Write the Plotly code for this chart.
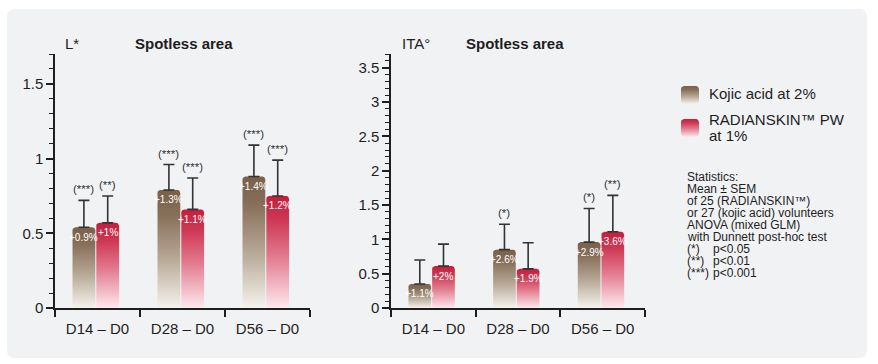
import math
import plotly.graph_objects as go

W, H = 878, 364

# ---- data -------------------------------------------------------------
categories = ["D14 – D0", "D28 – D0", "D56 – D0"]
series_names = ["Kojic acid at 2%", "RADIANSKIN™ PW", "at 1%"]

# L*, spotless area: mean change and SEM
l_kojic = [0.54, 0.79, 0.88]
l_kojic_sem = [0.18, 0.17, 0.21]
l_radian = [0.57, 0.66, 0.75]
l_radian_sem = [0.18, 0.21, 0.24]
l_kojic_pct = ["+0.9%", "+1.3%", "+1.4%"]
l_radian_pct = ["+1%", "+1.1%", "+1.2%"]
l_kojic_sig = ["(***)", "(***)", "(***)"]
l_radian_sig = ["(**)", "(***)", "(***)"]

# ITA°, spotless area: mean change and SEM
ita_kojic = [0.35, 0.85, 0.96]
ita_kojic_sem = [0.35, 0.37, 0.49]
ita_radian = [0.61, 0.57, 1.11]
ita_radian_sem = [0.32, 0.38, 0.53]
ita_kojic_pct = ["+1.1%", "+2.6%", "+2.9%"]
ita_radian_pct = ["+2%", "+1.9%", "+3.6%"]
ita_kojic_sig = ["", "(*)", "(*)"]
ita_radian_sig = ["", "", "(**)"]

l_ticks = [0, 0.5, 1, 1.5]
ita_ticks = [0, 0.5, 1, 1.5, 2, 2.5, 3, 3.5]

stats_lines = [
    "Statistics:",
    "Mean ± SEM",
    "of 25 (RADIANSKIN™)",
    "or 27 (kojic acid) volunteers",
    "ANOVA (mixed GLM)",
    "with Dunnett post-hoc test",
]
sig_keys = ["(*)", "(**)", "(***)"]
sig_levels = ["p<0.05", "p<0.01", "p<0.001"]

# ---- styling ------------------------------------------------------------
FONT = "Liberation Sans, Arial, Helvetica, sans-serif"
NARROW = "Liberation Sans Narrow, Arial Narrow, Liberation Sans, sans-serif"
INK = "#1e1e1e"
PANEL = "#f1f2f4"

KOJIC_SCALE = [[0, "#f5f2ec"], [0.45, "#b3a391"], [0.8, "#866e58"], [1, "#7a6049"]]
RADIAN_SCALE = [[0, "#fde9ed"], [0.45, "#e27c90"], [0.8, "#cd3652"], [1, "#c41f3c"]]

BAR_W = 0.268
GAP = 0.012
SHIFT = -0.02
KOJIC_OFF = (SHIFT - GAP / 2 - BAR_W, SHIFT - GAP / 2)
RADIAN_OFF = (SHIFT + GAP / 2, SHIFT + GAP / 2 + BAR_W)

# plot-area geometry in pixels
Y_TOP_PX, Y_ZERO_PX = 54, 308
LEFT_X = (55, 310)
RIGHT_X = (391, 645)
L_RANGE = [0, 1.7]
ITA_RANGE = [0, 3.7]


def px_x(p):
    return p / W


def px_y(p):
    return 1 - p / H


def rounded_outline(x0, x1, y0, y1, rx, ry, n=6):
    """Closed outline of a rectangle with rounded corners."""
    ry = min(ry, (y1 - y0) / 2)
    rx = min(rx, (x1 - x0) / 2)
    corners = [
        (x0 + rx, y0 + ry, 180, 270),
        (x1 - rx, y0 + ry, 270, 360),
        (x1 - rx, y1 - ry, 0, 90),
        (x0 + rx, y1 - ry, 90, 180),
    ]
    xs, ys = [], []
    for cx, cy, a0, a1 in corners:
        for i in range(n + 1):
            a = math.radians(a0 + (a1 - a0) * i / n)
            xs.append(cx + rx * math.cos(a))
            ys.append(cy + ry * math.sin(a))
    xs.append(xs[0])
    ys.append(ys[0])
    return xs, ys


fig = go.Figure()
annotations = []


def add_chart(xa, ya, yrange, xpx, kojic, kojic_sem, radian, radian_sem,
              kojic_pct, radian_pct, kojic_sig, radian_sig):
    x_unit = (xpx[1] - xpx[0]) / 3.0           # pixels per category
    y_unit = (Y_ZERO_PX - Y_TOP_PX) / (yrange[1] - yrange[0])
    rx, ry = 3 / x_unit, 3 / y_unit
    for vals, sems, pcts, sigs, off, scale in [
        (kojic, kojic_sem, kojic_pct, kojic_sig, KOJIC_OFF, KOJIC_SCALE),
        (radian, radian_sem, radian_pct, radian_sig, RADIAN_OFF, RADIAN_SCALE),
    ]:
        centers = []
        for i, v in enumerate(vals):
            xs, ys = rounded_outline(i + off[0], i + off[1], 0, v, rx, ry)
            fig.add_trace(go.Scatter(
                x=xs, y=ys, xaxis=xa, yaxis=ya, mode="lines",
                line=dict(width=0), fill="toself",
                fillgradient=dict(type="vertical", colorscale=scale),
                hoverinfo="skip", showlegend=False,
            ))
            cx = i + (off[0] + off[1]) / 2
            centers.append(cx)
            annotations.append(dict(
                x=cx, y=v, xref=xa, yref=ya, text=pcts[i], showarrow=False,
                yanchor="middle", yshift=-10,
                font=dict(family=NARROW, size=10, color="white"),
            ))
            if sigs[i]:
                annotations.append(dict(
                    x=cx, y=v + sems[i], xref=xa, yref=ya, text=sigs[i],
                    showarrow=False, yanchor="bottom", yshift=3,
                    font=dict(family=FONT, size=11.5, color="#333333"),
                ))
        fig.add_trace(go.Scatter(
            x=centers, y=vals, xaxis=xa, yaxis=ya, mode="markers",
            marker=dict(size=1, opacity=0),
            error_y=dict(type="data", symmetric=False, array=sems,
                         arrayminus=[0] * len(sems), color="#333333",
                         thickness=1.6, width=5.5),
            hoverinfo="skip", showlegend=False,
        ))


add_chart("x", "y", L_RANGE, LEFT_X, l_kojic, l_kojic_sem, l_radian, l_radian_sem,
          l_kojic_pct, l_radian_pct, l_kojic_sig, l_radian_sig)
add_chart("x2", "y2", ITA_RANGE, RIGHT_X, ita_kojic, ita_kojic_sem, ita_radian,
          ita_radian_sem, ita_kojic_pct, ita_radian_pct, ita_kojic_sig, ita_radian_sig)

# legend swatches (axis 3 works in pixel units: 18 x 51)
for (y0, y1), scale in [((33, 51), KOJIC_SCALE), ((0, 18), RADIAN_SCALE)]:
    xs, ys = rounded_outline(0, 18, y0, y1, 3, 3)
    fig.add_trace(go.Scatter(
        x=xs, y=ys, xaxis="x3", yaxis="y3", mode="lines", line=dict(width=0),
        fill="toself", fillgradient=dict(type="vertical", colorscale=scale),
        hoverinfo="skip", showlegend=False,
    ))


def y_axis(rng, ticks, anchor):
    return dict(
        domain=[px_y(Y_ZERO_PX), px_y(Y_TOP_PX)], range=rng, anchor=anchor,
        automargin=False,
        tickmode="array", tickvals=ticks, ticktext=[f"{t:g}" for t in ticks],
        showline=True, linecolor=INK, linewidth=1.5,
        ticks="outside", ticklen=7, tickwidth=1.5, tickcolor=INK,
        minor=dict(tickmode="linear", tick0=0, dtick=0.1, ticks="outside",
                   ticklen=4, tickwidth=1, tickcolor=INK),
        showgrid=False, zeroline=False, fixedrange=True,
        tickfont=dict(family=FONT, size=15, color=INK),
    )


def x_axis(xpx, anchor):
    return dict(
        domain=[px_x(xpx[0]), px_x(xpx[1])], range=[-0.5, 2.5], anchor=anchor,
        automargin=False,
        tickmode="array", tickvals=[0, 1, 2], ticktext=categories,
        showline=True, linecolor=INK, linewidth=1.5,
        ticks="outside", ticklen=6, tickcolor="rgba(0,0,0,0)",
        minor=dict(tickmode="linear", tick0=0.5, dtick=1, ticks="outside",
                   ticklen=7, tickwidth=1.5, tickcolor=INK),
        showgrid=False, zeroline=False, fixedrange=True,
        tickfont=dict(family=FONT, size=15, color=INK),
    )


# chart titles
for txt, x, anchor, bold in [
    ("L*", 63, "left", False), ("Spotless area", 183.5, "center", True),
    ("ITA°", 400, "left", False), ("Spotless area", 515, "center", True),
]:
    annotations.append(dict(
        x=px_x(x), y=px_y(43), xref="paper", yref="paper", showarrow=False,
        text=f"<b>{txt}</b>" if bold else txt, xanchor=anchor, yanchor="middle",
        font=dict(family=FONT, size=15, color=INK),
    ))

# legend labels
for txt, y in [(series_names[0], 94), (series_names[1], 120), (series_names[2], 135)]:
    annotations.append(dict(
        x=px_x(707), y=px_y(y), xref="paper", yref="paper", showarrow=False,
        text=txt, xanchor="left", yanchor="middle",
        font=dict(family=FONT, size=15, color=INK),
    ))

# statistics notes
STAT_Y0, STAT_DY = 177, 12
for i, txt in enumerate(stats_lines):
    annotations.append(dict(
        x=px_x(685), y=px_y(STAT_Y0 + STAT_DY * i), xref="paper", yref="paper",
        showarrow=False, text=txt, xanchor="left", yanchor="middle",
        font=dict(family=FONT, size=12, color=INK),
    ))
for j, (k, p) in enumerate(zip(sig_keys, sig_levels)):
    y = px_y(STAT_Y0 + STAT_DY * (len(stats_lines) + j))
    for txt, x in [(k, 685), (p, 711)]:
        annotations.append(dict(
            x=px_x(x), y=y, xref="paper", yref="paper", showarrow=False,
            text=txt, xanchor="left", yanchor="middle",
            font=dict(family=FONT, size=12, color=INK),
        ))

# rounded background panel
x0, x1, y0, y1, r = 7, 867, 9, 358, 8
X = px_x
Y = px_y
panel_path = (
    f"M{X(x0 + r)},{Y(y0)} L{X(x1 - r)},{Y(y0)} Q{X(x1)},{Y(y0)} {X(x1)},{Y(y0 + r)} "
    f"L{X(x1)},{Y(y1 - r)} Q{X(x1)},{Y(y1)} {X(x1 - r)},{Y(y1)} "
    f"L{X(x0 + r)},{Y(y1)} Q{X(x0)},{Y(y1)} {X(x0)},{Y(y1 - r)} "
    f"L{X(x0)},{Y(y0 + r)} Q{X(x0)},{Y(y0)} {X(x0 + r)},{Y(y0)} Z"
)

fig.update_layout(
    width=W, height=H, margin=dict(l=0, r=0, t=0, b=0, autoexpand=False),
    paper_bgcolor="white", plot_bgcolor="rgba(0,0,0,0)",
    showlegend=False, font=dict(family=FONT, color=INK),
    xaxis=x_axis(LEFT_X, "y"), yaxis=y_axis(L_RANGE, l_ticks, "x"),
    xaxis2=x_axis(RIGHT_X, "y2"), yaxis2=y_axis(ITA_RANGE, ita_ticks, "x2"),
    xaxis3=dict(domain=[px_x(681), px_x(699)], range=[0, 18], visible=False,
                anchor="y3", fixedrange=True, automargin=False),
    yaxis3=dict(domain=[px_y(137), px_y(86)], range=[0, 51], visible=False,
                anchor="x3", fixedrange=True, automargin=False),
    annotations=annotations,
    shapes=[dict(type="path", path=panel_path, xref="paper", yref="paper",
                 fillcolor=PANEL, line=dict(width=0), layer="below")],
)

fig.write_html("out.html", config=dict(displayModeBar=False))
